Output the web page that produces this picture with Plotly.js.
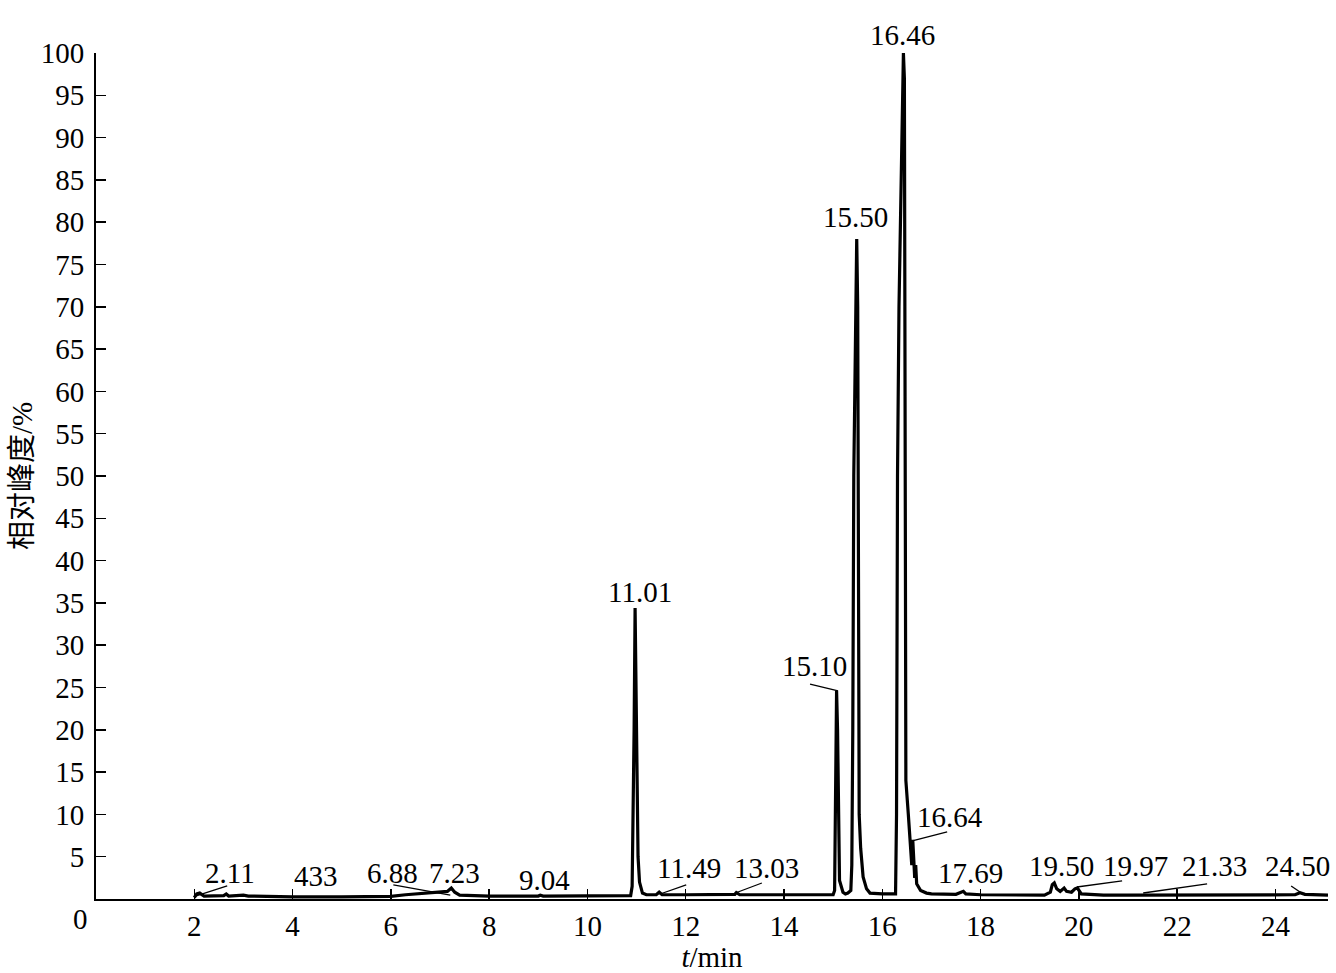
<!DOCTYPE html>
<html>
<head>
<meta charset="utf-8">
<script src="https://cdn.plot.ly/plotly-3.0.1.min.js"></script>
<style>
    body { margin: 0; background: #fff; }
    #chromChart { width: 1336px; height: 973px; }
</style>
</head>
<body>
<div id="chromChart"></div>
<script>
// Chromatogram trace (time in min, relative abundance in %)
var timeMin = [2.00, 2.05, 2.11, 2.20, 2.60, 2.65, 2.70, 3.00, 3.10, 4.00, 5.00, 6.00, 6.30, 6.70, 7.00, 7.15, 7.23, 7.30, 7.40, 8.00,
    9.00, 9.04, 9.10, 10.00, 10.88, 10.91, 10.93, 10.95, 10.97, 10.99, 11.01, 11.03, 11.06, 11.12, 11.20, 11.40, 11.46, 11.52, 12.00, 12.50,
    13.00, 13.03, 13.10, 14.00, 14.50, 15.00, 15.03, 15.05, 15.07, 15.09, 15.10, 15.13, 15.20, 15.25, 15.30, 15.36, 15.38, 15.40, 15.42, 15.46,
    15.48, 15.50, 15.52, 15.53, 15.56, 15.61, 15.68, 15.75, 16.00, 16.27, 16.29, 16.31, 16.34, 16.38, 16.43, 16.45, 16.47, 16.48, 16.53, 16.58,
    16.60, 16.62, 16.64, 16.66, 16.68, 16.70, 16.78, 16.90, 17.00, 17.50, 17.65, 17.70, 18.00, 18.50, 19.30, 19.42, 19.46, 19.50, 19.55, 19.62,
    19.70, 19.75, 19.85, 19.92, 19.97, 20.05, 20.50, 21.00, 22.00, 23.00, 24.00, 24.40, 24.50, 24.60, 25.07];
var abundance = [0.15, 0.6, 0.7, 0.35, 0.4, 0.6, 0.35, 0.45, 0.35, 0.25, 0.25, 0.3, 0.5, 0.7, 0.8, 0.9, 1.3, 0.8, 0.45, 0.35,
    0.35, 0.45, 0.35, 0.35, 0.4, 1.5, 10, 20, 34.4, 25, 15, 5, 2, 0.7, 0.5, 0.5, 0.8, 0.5, 0.5, 0.5,
    0.55, 0.75, 0.5, 0.5, 0.5, 0.5, 1, 15, 24.6, 20, 14, 2.2, 0.8, 0.6, 0.7, 1, 4, 20, 50, 75,
    78, 70, 40, 10, 6, 2.6, 1.2, 0.7, 0.6, 0.6, 10, 50, 70, 85, 100, 97, 40, 14, 10, 6.5,
    4, 7, 5, 2.5, 4, 1.8, 1.0, 0.7, 0.6, 0.55, 0.9, 0.6, 0.5, 0.45, 0.45, 0.8, 1.7, 1.9, 1.2, 0.9,
    1.3, 0.9, 0.8, 1.2, 1.3, 0.6, 0.45, 0.45, 0.45, 0.45, 0.45, 0.5, 0.75, 0.55, 0.45];

// Peak labels
var peakLabels = ["2.11", "433", "6.88", "7.23", "9.04", "11.01", "11.49", "13.03", "15.10", "15.50",
    "16.46", "16.64", "17.69", "19.50", "19.97", "21.33", "24.50"];
var labelTime = [2.73, 4.48, 6.03, 7.29, 9.12, 11.07, 12.07, 13.64, 14.63, 15.45,
    16.42, 17.38, 17.79, 19.64, 21.16, 22.77, 24.44];
var labelAbund = [3.1, 2.7, 3.1, 3.1, 2.25, 36.3, 3.7, 3.7, 27.5, 80.6,
    102.1, 9.7, 3.1, 3.9, 3.9, 3.9, 3.9];

// Leader lines from label to peak (start / end)
var leaderT0 = [2.04, 6.05, 11.48, 13.01, 14.53, 16.61, 19.96, 21.31, 24.32];
var leaderV0 = [0.36, 1.66, 0.59, 0.71, 25.4, 6.86, 1.42, 0.71, 1.54];
var leaderT1 = [2.67, 7.21, 12.01, 13.55, 15.10, 17.32, 20.88, 22.61, 24.50];
var leaderV1 = [1.54, 0.47, 1.66, 1.89, 24.6, 7.93, 2.13, 1.78, 0.83];

var xTicks = [2, 4, 6, 8, 10, 12, 14, 16, 18, 20, 22, 24];
var yTicks = [5, 10, 15, 20, 25, 30, 35, 40, 45, 50, 55, 60, 65, 70, 75, 80, 85, 90, 95, 100];
var yMax = 100;

var fontFamily = "'Liberation Serif', 'Times New Roman', 'Noto Sans CJK SC', serif";
var fontSize = 29;

function buildLeaderTrace() {
    var xs = [];
    var ys = [];
    for (var i = 0; i < leaderT0.length; i++) {
        xs.push(leaderT0[i], leaderT1[i], null);
        ys.push(leaderV0[i], leaderV1[i], null);
    }
    return {
        x: xs,
        y: ys,
        type: "scatter",
        mode: "lines",
        line: { color: "#000", width: 1.3 },
        hoverinfo: "skip",
        cliponaxis: false
    };
}

function buildAnnotations() {
    var anns = [];
    for (var i = 0; i < peakLabels.length; i++) {
        // paper y so labels above the top of the axis are still drawn
        anns.push({
            x: labelTime[i],
            y: labelAbund[i] / yMax,
            xref: "x",
            yref: "paper",
            yanchor: "middle",
            text: peakLabels[i],
            showarrow: false,
            font: { family: fontFamily, size: fontSize, color: "#000" }
        });
    }
    // origin label sits left of the corner
    anns.push({
        x: 0, y: 0, xref: "x", yref: "paper",
        yanchor: "middle",
        text: "0", showarrow: false,
        xshift: -16, yshift: -20,
        font: { family: fontFamily, size: fontSize, color: "#000" }
    });
    return anns;
}

function plotChromatogram() {
    var trace = {
        x: timeMin,
        y: abundance,
        type: "scatter",
        mode: "lines",
        line: { color: "#000", width: 3.2 },
        cliponaxis: false
    };
    var layout = {
        width: 1336,
        height: 973,
        margin: { l: 96, r: 8, t: 53, b: 74 },
        paper_bgcolor: "#fff",
        plot_bgcolor: "#fff",
        showlegend: false,
        font: { family: fontFamily, size: fontSize, color: "#000" },
        xaxis: {
            range: [0, 25.07],
            tickvals: xTicks,
            ticks: "inside",
            ticklen: 10,
            tickwidth: 1.5,
            tickcolor: "#000",
            showline: true,
            linewidth: 2,
            linecolor: "#000",
            showgrid: false,
            zeroline: false,
            tickfont: { family: fontFamily, size: fontSize },
            title: { text: "<i>t</i>/min", font: { family: fontFamily, size: fontSize }, standoff: 8 }
        },
        yaxis: {
            range: [0, yMax],
            tickvals: yTicks,
            ticks: "inside",
            ticklen: 10,
            tickwidth: 1.5,
            tickcolor: "#000",
            showline: true,
            linewidth: 2,
            linecolor: "#000",
            showgrid: false,
            zeroline: false,
            ticklabelstandoff: 4,
            tickfont: { family: fontFamily, size: fontSize },
            title: { text: "相对峰度/%", font: { family: fontFamily, size: fontSize }, standoff: 0 }
        },
        annotations: buildAnnotations()
    };
    Plotly.newPlot("chromChart", [trace, buildLeaderTrace()], layout, { staticPlot: true });
}
plotChromatogram();
</script>
</body>
</html>
